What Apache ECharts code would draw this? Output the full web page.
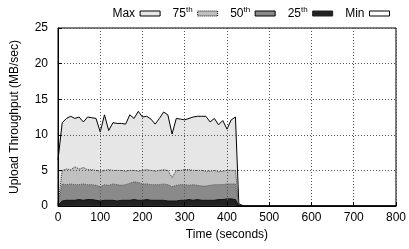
<!DOCTYPE html>
<html>
<head>
<meta charset="utf-8">
<script src="https://cdn.jsdelivr.net/npm/echarts@6/dist/echarts.min.js"></script>
<style>
html, body { margin: 0; padding: 0; background: #fff; }
#chart { width: 409px; height: 249px; }
</style>
</head>
<body>
<div id="chart"></div>
<script>
'use strict';
// time in seconds
var times = [0,10,20,30,40,50,60,70,80,90,100,110,120,130,140,150,160,170,180,190,200,210,220,230,240,250,260,270,280,290,300,310,320,330,340,350,360,370,380,390,400,410,420,428,440,800];
// upload throughput percentiles (MB/sec)
var maxVals = [6.5,11.7,12.3,12.6,12.3,12.5,11.8,12.5,12.4,12.3,10.4,12.8,10.6,11.7,11.6,11.6,11.5,12.8,12.3,13.3,12.5,12.6,12.2,11.5,12.3,13.2,12.8,10.1,12.3,12.2,12.1,12.3,12.5,12.6,12.6,12.6,11.8,12.3,11.4,12.0,10.8,12.1,12.5,0.3,0,0];
var p75Vals = [0.3,5.0,5.2,5.1,5.5,5.2,5.4,5.1,5.1,5.0,4.9,5.0,5.1,5.0,5.0,5.0,4.9,5.0,5.0,4.9,5.0,5.1,5.0,4.9,5.0,5.1,5.0,4.0,5.0,5.0,5.1,5.1,5.0,5.0,5.0,4.9,4.9,5.0,4.8,4.9,5.0,5.0,5.0,0.2,0,0];
var p50Vals = [0.2,3.1,3.0,3.1,3.0,3.0,3.1,3.0,3.0,2.9,2.7,3.0,2.9,3.1,3.0,2.9,3.0,3.2,3.4,3.3,3.1,3.1,3.0,3.0,3.0,3.1,3.0,2.7,2.9,3.0,3.0,2.9,3.0,2.9,2.8,2.8,2.9,3.0,3.0,3.0,3.1,3.1,3.1,0.1,0,0];
var p25Vals = [0.1,0.7,0.8,0.8,0.8,0.9,0.8,0.9,0.9,0.8,0.7,0.8,0.8,0.8,0.7,0.8,0.8,0.8,0.9,0.8,0.8,0.9,0.8,0.8,0.8,0.8,0.7,0.7,0.7,0.8,0.8,0.9,0.8,0.9,0.8,0.8,0.8,0.8,0.9,0.9,1.0,1.0,0.9,0.05,0,0];
var minVals = [0,0.05,0.05,0.05,0.05,0.05,0.05,0.05,0.05,0.05,0.05,0.05,0.05,0.05,0.05,0.05,0.05,0.05,0.05,0.05,0.05,0.05,0.05,0.05,0.05,0.05,0.05,0.05,0.05,0.05,0.05,0.05,0.05,0.05,0.05,0.05,0.05,0.05,0.05,0.05,0.05,0.05,0.05,0,0,0];

var names = ['Max', '75th', '50th', '25th', 'Min'];
var fills = ['#e6e6e6', '#c0c0c0', '#8a8a8a', '#222222', '#ffffff'];
var lines = [
	{color: '#000', width: 1, type: 'solid'},
	{color: '#333', width: 1, type: 'dotted'},
	{color: '#555', width: 1, type: 'dotted'},
	{color: '#111', width: 1, type: 'solid'},
	{color: '#000', width: 0, type: 'solid'}
];
var allVals = [maxVals, p75Vals, p50Vals, p25Vals, minVals];

function pairs(vals) {
	return times.map(function (t, i) { return [t, vals[i]]; });
}

var font = 'Liberation Sans, Arial, sans-serif';
var chart = echarts.init(document.getElementById('chart'));

var series = names.map(function (n, i) {
	return {
		name: n,
		type: 'line',
		data: pairs(allVals[i]),
		symbol: 'none',
		animation: false,
		lineStyle: lines[i],
		areaStyle: {color: fills[i], opacity: 1, origin: 'start'},
		itemStyle: {color: fills[i], borderColor: '#000', borderWidth: 1}
	};
});

var legendData = names.map(function (n, i) {
	return {
		name: n,
		icon: 'rect',
		itemStyle: {color: fills[i], borderColor: i === 3 ? '#222' : '#000', borderWidth: 1, borderType: i === 1 ? 'dotted' : 'solid'}
	};
});

chart.setOption({
	animation: false,
	legend: {
		data: legendData,
		right: 14,
		top: 1,
		align: 'right',
		itemWidth: 20,
		itemHeight: 5,
		itemGap: 12,
		textStyle: {
			fontFamily: font, fontSize: 12, color: '#000',
			rich: {
				s: {fontFamily: font, fontSize: 8, color: '#000', verticalAlign: 'top', padding: [0, 0, 7, 0]}
			}
		},
		formatter: function (name) {
			return name.replace('th', '{s|th}');
		}
	},
	grid: {
		left: 58, right: 9, top: 28, bottom: 43,
		show: true, borderColor: '#000', borderWidth: 1, backgroundColor: 'transparent', z: 5
	},
	xAxis: {
		type: 'value', min: 0, max: 800, interval: 100, z: 5,
		name: 'Time (seconds)', nameLocation: 'middle', nameGap: 20,
		nameTextStyle: {fontFamily: font, fontSize: 12, color: '#000'},
		axisLine: {lineStyle: {color: '#000'}},
		axisTick: {inside: true, length: 4, lineStyle: {color: '#000'}},
		axisLabel: {fontFamily: font, fontSize: 12, color: '#000', margin: 6},
		splitLine: {lineStyle: {color: '#555', type: [1, 2]}}
	},
	yAxis: {
		type: 'value', min: 0, max: 25, interval: 5, z: 5,
		name: 'Upload Throughput (MB/sec)', nameLocation: 'middle', nameGap: 37,
		nameTextStyle: {fontFamily: font, fontSize: 12, color: '#000'},
		axisLine: {lineStyle: {color: '#000'}},
		axisTick: {inside: true, length: 4, lineStyle: {color: '#000'}},
		axisLabel: {fontFamily: font, fontSize: 12, color: '#000', margin: 10},
		splitLine: {lineStyle: {color: '#555', type: [1, 2]}}
	},
	series: series
});
</script>
</body>
</html>
